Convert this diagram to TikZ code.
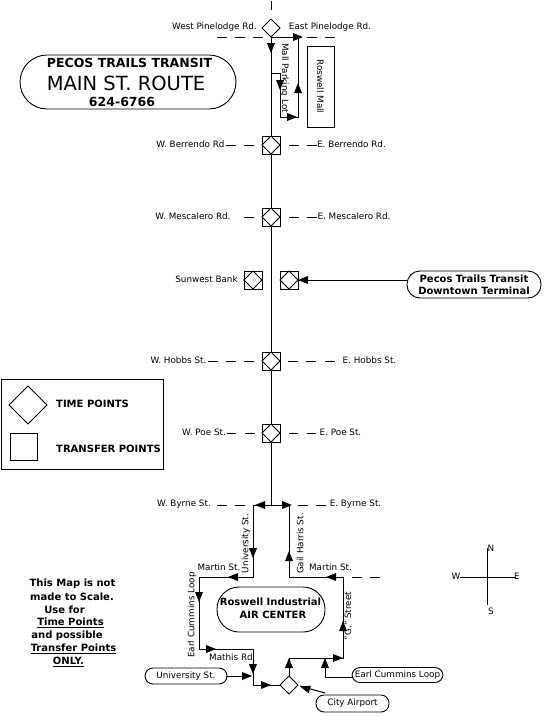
\documentclass[tikz,border=0pt]{standalone}
\usepackage{fontspec}
\setmainfont{DejaVu Sans}
\newcommand{\hd}[4]{\fill[black] ({#1+5*#3},{#2+5*#4}) -- ({#1-5*#3-4*#4},{#2-5*#4+4*#3}) -- ({#1-5*#3+4*#4},{#2-5*#4-4*#3}) -- cycle;}
\newcommand{\tp}[3]{\node[sq] (#1) at (#2,#3) {}; \draw[thin1] (#2-9,#3) -- (#2,#3-9) -- (#2+9,#3) -- (#2,#3+9) -- cycle;}
\tikzset{
 lbl/.style={inner sep=0pt,font=\fontsize{8.8}{10}\selectfont},
 bld/.style={inner sep=0pt,font=\fontsize{10}{11}\selectfont\bfseries},
 ln/.style={draw=black,line width=1pt},
 thin1/.style={draw=black,line width=0.8pt},
 sq/.style={draw=black,line width=1pt,minimum size=18pt,inner sep=0pt,fill=white},
 pill/.style={draw=black,line width=0.9pt,rounded corners=8pt,inner sep=0pt,fill=white},
}
\begin{document}
\begin{tikzpicture}[x=1pt,y=-1pt]
\useasboundingbox (0,0) rectangle (545,716);
\fill[white] (0,0) rectangle (545,716);
% main line
\coordinate (top) at (271,1); \coordinate (topd) at (271,10);
\coordinate (pl) at (271,37); \coordinate (bl) at (271,505);
\draw[ln] (top) -- (topd);
\draw[ln] (pl) -- (bl);
% Pinelodge dashes
\foreach \a/\b in {217/227,235/245,253/263,307/317,325/335}{\draw[ln] (\a,37) -- (\b,37);}
% Stop markers
\draw[thin1,fill=white] (271,19) -- (280,28) -- (271,37) -- (262,28) -- cycle;
\tp{berr}{271}{145}
\tp{mesc}{271}{217}
\tp{sunw}{253}{280}
\tp{dtwn}{289}{280}
\tp{hobb}{271}{361}
\tp{poe}{271}{433}
% Mall loop
\coordinate (m1) at (298,37); \coordinate (m2) at (298,117); \coordinate (m3) at (280,117); \coordinate (m4) at (280,73); \coordinate (m5) at (271,73);
\draw[ln] (pl) -- (m1) -- (m2) -- (m3) -- (m4) -- (m5);
\hd{271}{48}{0}{1}
\hd{298}{37}{1}{0}
\hd{298}{88}{0}{-1}
\hd{292}{117}{1}{0}
\hd{280}{85}{0}{1}
\node[draw=black,line width=1pt,minimum width=27pt,minimum height=81pt,inner sep=0pt] (mall) at (320.5,86.5) {};
\node[lbl,rotate=-90] at (mall) {Roswell Mall};
\node[lbl,rotate=-90] at (284.5,78) {Mall Parking Lot};
% street dashes
\foreach \a/\b/\y in {226/236/145,244/254/145,289/299/145,307/317/145,
 244/254/217,289/299/217,307/317/217,
 208/218/361,226/236/361,244/254/361,288/298/361,306/316/361,325/335/361,
 227/236/433,245/255/433,289/298/433,307/316/433,
 217/227/505,235/245/505,298/308/505,316/326/505,352/362/577,370/380/577}{\draw[ln] (\a,\y) -- (\b,\y);}
% labels
\node[lbl] at (214.5,27) {West Pinelodge Rd.};
\node[lbl] at (330,27) {East Pinelodge Rd.};
\node[lbl] at (190.5,144) {W. Berrendo Rd};
\node[lbl] at (351.5,144) {E. Berrendo Rd.};
\node[lbl] at (193,216) {W. Mescalero Rd.};
\node[lbl] at (354,216) {E. Mescalero Rd.};
\node[lbl] at (206.5,279) {Sunwest Bank};
\node[lbl] at (178.5,360) {W. Hobbs St.};
\node[lbl] at (369.5,360) {E. Hobbs St.};
\node[lbl] at (204,432) {W. Poe St.};
\node[lbl] at (340.5,432) {E. Poe St.};
\node[lbl] at (184,504) {W. Byrne St.};
\node[lbl] at (355.5,504) {E. Byrne St.};
\node[lbl] at (219,567) {Martin St.};
\node[lbl] at (330.5,567) {Martin St.};
\node[lbl] at (231,657) {Mathis Rd};
\node[lbl,rotate=90] at (246,543.5) {University St.};
\node[lbl,rotate=90] at (300,543.5) {Gail Harris St.};
\node[lbl,rotate=90] at (192,615) {Earl Cummins Loop};
\node[lbl,rotate=90] at (348,616) {"G." Street};
% title
\node[pill,rounded corners=27pt,minimum width=216pt,minimum height=54pt] (title) at (128,82) {};
\node[inner sep=0pt,font=\fontsize{12.5}{13}\selectfont\bfseries] at (129.5,63) {PECOS TRAILS TRANSIT};
\node[inner sep=0pt,font=\fontsize{19.5}{20}\selectfont] at (126,83) {MAIN ST. ROUTE};
\node[inner sep=0pt,font=\fontsize{12.5}{13}\selectfont\bfseries] at (122,102) {624-6766};
% Downtown terminal
\node[pill,rounded corners=13pt,minimum width=134pt,minimum height=27pt] (term) at (474,284.5) {};
\node[bld] at (474,279) {Pecos Trails Transit};
\node[bld] at (474,291) {Downtown Terminal};
\draw[ln] (term.west |- dtwn) -- (dtwn.east);
\hd{303}{280}{-1}{0}
% legend
\node[draw=black,line width=1pt,minimum width=162pt,minimum height=90pt,inner sep=0pt] (leg) at (82,424) {};
\draw[thin1] (9,405) -- (28,386) -- (47,405) -- (28,424) -- cycle;
\node[draw=black,line width=1pt,minimum size=27pt,inner sep=0pt] (lsq) at (23.5,446.5) {};
\node[bld,anchor=west] at (56,404) {TIME POINTS};
\node[bld,anchor=west] at (56,449) {TRANSFER POINTS};
% lower network
\coordinate (bw) at (253,505); \coordinate (be) at (289,505);
\coordinate (a1) at (253,577); \coordinate (a2) at (199,577); \coordinate (a3) at (199,649);
\coordinate (a4) at (253,649); \coordinate (a5) at (253,685);
\coordinate (b1) at (289,577); \coordinate (b2) at (343,577); \coordinate (b3) at (343,658); \coordinate (b4) at (289,658);
\coordinate (c1) at (325,658); \coordinate (c2) at (325,676);
\draw[thin1] (280,685) -- (289,676) -- (298,685) -- (289,694) -- cycle;
\draw[ln] (bw) -- (be);
\draw[ln] (bw) -- (a1) -- (a2) -- (a3) -- (a4) -- (a5) -- (280,685);
\draw[ln] (be) -- (b1) -- (b2) -- (b3) -- (b4) -- (289,676);
\hd{260}{505}{-1}{0}
\hd{287}{505}{1}{0}
\hd{253}{553}{0}{1}
\hd{289}{556}{0}{-1}
\hd{233}{577}{-1}{0}
\hd{331}{577}{-1}{0}
\hd{199}{597}{0}{1}
\hd{211}{649}{1}{0}
\hd{253}{669}{0}{1}
\hd{343}{626}{0}{-1}
\hd{338}{658}{1}{0}
\hd{325}{663}{0}{-1}
\hd{289}{663}{0}{-1}
\hd{247}{676}{1}{0}
\hd{266}{685}{1}{0}
% pills
\node[pill,rounded corners=22pt,minimum width=108pt,minimum height=45pt] (air) at (271,609.5) {};
\node[bld] at (270.5,602) {Roswell Industrial};
\node[bld] at (273,615) {AIR CENTER};
\node[pill,minimum width=82pt,minimum height=16pt] (uni) at (186,676) {};
\node[lbl] at (uni) {University St.};
\node[pill,minimum width=91pt,minimum height=15pt] (earl) at (397.5,675) {};
\node[lbl] at (earl) {Earl Cummins Loop};
\node[pill,minimum width=73pt,minimum height=17pt] (city) at (352.5,703.5) {};
\node[lbl] at (city) {City Airport};
\draw[ln] (uni.east) -- (250,676);
\draw[ln] (352,677) -- (325,677) -- (c1);
\draw[ln] (325,693) -- (300,686);
\hd{305}{688}{-0.95}{-0.3}
% note
\begin{scope}[every node/.style={bld}]
\node at (72.5,584) {This Map is not};
\node at (72,597) {made to Scale.};
\node at (64.5,610) {Use for};
\node at (70.5,623) {\underline{Time Points}};
\node at (67,636) {and possible};
\node at (73.5,649) {\underline{Transfer Points}};
\node at (68.5,662) {\underline{ONLY.}};
\end{scope}
% compass
\draw[ln] (460,577) -- (515,577);
\draw[ln] (487,548) -- (487,605);
\node[lbl] at (491,548) {N};
\node[lbl] at (456,576) {W};
\node[lbl] at (517,576) {E};
\node[lbl] at (491,611) {S};
\end{tikzpicture}
\end{document}
